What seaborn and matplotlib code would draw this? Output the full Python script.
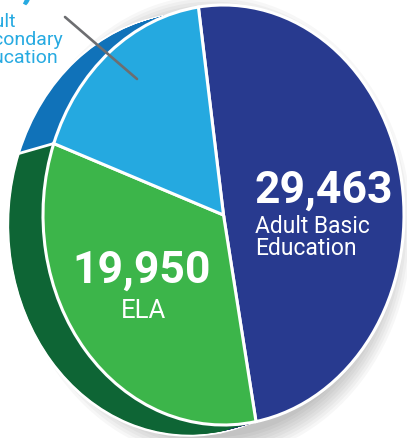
import numpy as np
import matplotlib
matplotlib.use('Agg')
import matplotlib.pyplot as plt
import seaborn as sns
from matplotlib.patches import Ellipse

# enrolment by program
programs = ['Adult Basic\nEducation', 'ELA', 'Adult\nSecondary\nEducation']
students = [29463, 19950, 10300]  # last one is cut off in the picture, estimated from the slice
face_colors = ['#283a8f', '#3cb54a', '#25a9e0']
side_colors = ['#1e2d74', '#0e6535', '#1072b9']
label_color = '#27aae1'

sns.set_theme(style='white')
plt.rcParams['font.family'] = ['Roboto', 'DejaVu Sans']

W, H = 407, 438
fig = plt.figure(figsize=(W / 100, H / 100), dpi=100)
ax = fig.add_axes([0, 0, 1, 1])

# top face of the pie, in pixels: centre and half axes
cx, cy, rx, ry = 223.5, 215, 180.5, 210


def px(x, y):
    # pixel (from top-left) -> data
    return (x - cx) / rx, (cy - y) / ry


start = 98
off_x, off_y = -35 / rx, -10 / ry  # depth of the pie (side shows on the left)

# soft drop shadow
for k in range(8):
    ax.add_patch(Ellipse((off_x / 2 + 0.035, off_y / 2 - 0.035), 2.0 + 0.03 * k, 2.0 + 0.03 * k,
                         color='black', alpha=0.03, lw=0, zorder=0))

# side of the pie: back face with outline, then filled sweep towards the front
ax.pie(students, colors=side_colors, startangle=start, counterclock=False,
       center=(off_x, off_y), radius=1,
       wedgeprops=dict(edgecolor='white', linewidth=2.5), normalize=True)
for t in np.linspace(1, 0, 30)[1:-1]:
    ax.pie(students, colors=side_colors, startangle=start, counterclock=False,
           center=(off_x * t, off_y * t), radius=1,
           wedgeprops=dict(linewidth=0), normalize=True)

# white seam on the side between the dark blue and dark green parts
frac = np.cumsum(students) / np.sum(students)
theta = np.deg2rad(start - 360 * frac[1])
ax.plot([np.cos(theta), np.cos(theta) + off_x], [np.sin(theta), np.sin(theta) + off_y],
        color='white', lw=2, solid_capstyle='butt', zorder=3)

# top face
wedges, _ = ax.pie(students, colors=face_colors, startangle=start, counterclock=False,
                   center=(0, 0), radius=1,
                   wedgeprops=dict(edgecolor='white', linewidth=2.2), normalize=True)
for w in wedges:
    w.set_zorder(4)

# labels
ax.text(*px(255, 203), f'{students[0]:,}', color='white', fontsize=32, fontweight='bold',
        ha='left', va='baseline', zorder=6)
ax.text(*px(255, 215), programs[0], color='white', fontsize=16.5, ha='left', va='top',
        linespacing=0.95, zorder=6)

ax.text(*px(142, 283), f'{students[1]:,}', color='white', fontsize=32, fontweight='bold',
        ha='center', va='baseline', zorder=6)
ax.text(*px(144, 318), programs[1], color='white', fontsize=18.5, ha='center', va='baseline',
        zorder=6)

# this label runs off the top-left edge in the original
ax.text(*px(-29, -3), f'{students[2]:,}', color=label_color, fontsize=32, fontweight='bold',
        ha='left', va='baseline', zorder=6)
ax.text(*px(-29, 13), programs[2], color=label_color, fontsize=14, ha='left', va='top',
        linespacing=1.0, zorder=6)

# leader line into the light blue slice
ax.plot(*zip(px(65, 17), px(137, 79)), color='#6d6e71', lw=1.9, zorder=7)

ax.set_xlim(px(0, 0)[0], px(W, 0)[0])
ax.set_ylim(px(0, H)[1], px(0, 0)[1])
ax.set_aspect('auto')
ax.axis('off')

fig.savefig('out.png', dpi=100, facecolor='white')
